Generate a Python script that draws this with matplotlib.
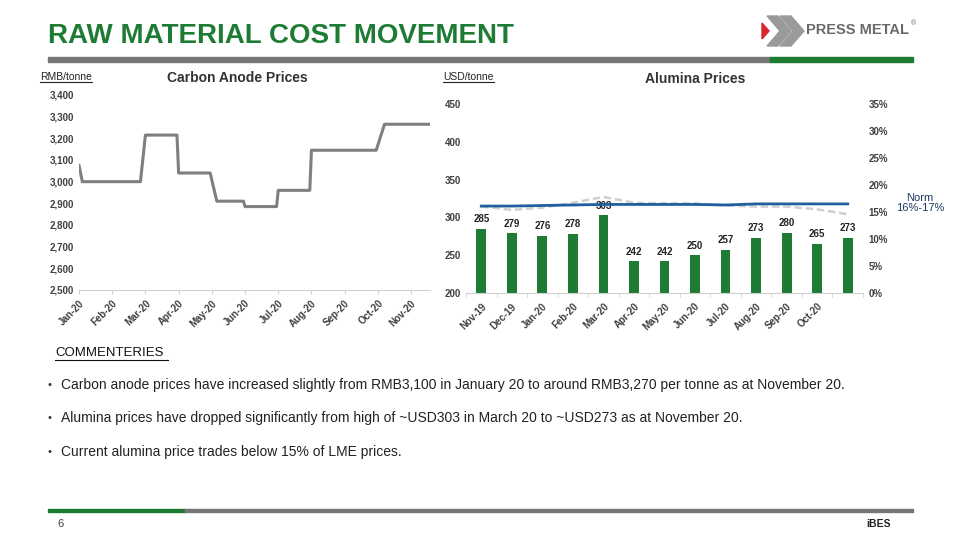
import matplotlib
matplotlib.use("Agg")
import matplotlib.pyplot as plt
from matplotlib.patches import Polygon, Rectangle
import numpy as np

plt.rcParams['font.family'] = ['Liberation Sans', 'DejaVu Sans']

# carbon anode prices (RMB/tonne); x = months since Jan-20
anode_x = [0, 0.1, 1.85, 2.0, 2.95, 3.0, 3.95, 4.15, 4.95, 5.0, 5.95, 6.0,
           6.95, 7.0, 8.95, 9.2, 10.6]
anode_y = [3075, 3000, 3000, 3215, 3215, 3040, 3040, 2910, 2910, 2885, 2885,
           2960, 2960, 3145, 3145, 3265, 3265]
anode_months = ['Jan-20', 'Feb-20', 'Mar-20', 'Apr-20', 'May-20', 'Jun-20',
                'Jul-20', 'Aug-20', 'Sep-20', 'Oct-20', 'Nov-20']
anode_yticks = [2500, 2600, 2700, 2800, 2900, 3000, 3100, 3200, 3300, 3400]

# alumina prices (USD/tonne) and % of LME
alu_months = ['Nov-19', 'Dec-19', 'Jan-20', 'Feb-20', 'Mar-20', 'Apr-20',
              'May-20', 'Jun-20', 'Jul-20', 'Aug-20', 'Sep-20', 'Oct-20', '']
alu_price = [285, 279, 276, 278, 303, 242, 242, 250, 257, 273, 280, 265, 273]
alu_pct_lme = [16.0, 15.4, 15.8, 16.7, 17.8, 16.7, 16.6, 16.6, 16.2, 16.0,
               16.0, 15.5, 14.6]
norm_line = [16.1, 16.1, 16.2, 16.3, 16.4, 16.4, 16.4, 16.4, 16.3, 16.5,
             16.5, 16.5, 16.5]
pct_ticks = [0, 5, 10, 15, 20, 25, 30, 35]

GREEN = '#1e7b34'
GRAY = '#767676'
W, H = 960, 540

fig = plt.figure(figsize=(9.6, 5.4), dpi=100)


def px_axes(x0, y0, x1, y1):
    return fig.add_axes([x0 / W, 1 - y1 / H, (x1 - x0) / W, (y1 - y0) / H])


def style_axis(ax):
    for s in ['top', 'right', 'left']:
        ax.spines[s].set_visible(False)
    ax.spines['bottom'].set_color('#d0d0d0')
    ax.tick_params(axis='y', length=0, labelsize=7, labelcolor='#404040')
    for t in ax.get_yticklabels():
        t.set_fontweight('bold')


# header
fig.text(48 / W, 1 - 36 / H, 'RAW MATERIAL COST MOVEMENT', color=GREEN,
         fontsize=20, fontweight='bold', va='center', ha='left')
fig.patches.append(Rectangle((48 / W, 1 - 62 / H), (770 - 48) / W, 5 / H,
                             transform=fig.transFigure, color=GRAY))
fig.patches.append(Rectangle((770 / W, 1 - 62 / H), (913 - 770) / W, 5 / H,
                             transform=fig.transFigure, color=GREEN))
# logo
for dx in (0, 13):
    pts = [(767 + dx, 16), (778 + dx, 16), (791 + dx, 31), (778 + dx, 46),
           (767 + dx, 46), (780 + dx, 31)]
    fig.patches.append(Polygon([(x / W, 1 - y / H) for x, y in pts],
                               transform=fig.transFigure, color='#9a9a9a'))
red = [(762, 23), (769, 31), (762, 39)]
fig.patches.append(Polygon([(x / W, 1 - y / H) for x, y in red],
                           transform=fig.transFigure, color='#d9252b'))
fig.text(806 / W, 1 - 30 / H, 'PRESS METAL', color='#6a6a6a', fontsize=10.5,
         fontweight='bold', va='center', ha='left')
fig.text(911 / W, 1 - 24 / H, '®', color='#6a6a6a', fontsize=5, va='center')

# footer
fig.patches.append(Rectangle((48 / W, 1 - 512 / H), (185 - 48) / W, 3 / H,
                             transform=fig.transFigure, color=GREEN))
fig.patches.append(Rectangle((185 / W, 1 - 512 / H), (913 - 185) / W, 3 / H,
                             transform=fig.transFigure, color=GRAY))
fig.text(57 / W, 1 - 524 / H, '6', fontsize=8, color='#404040', va='center')
fig.text(866 / W, 1 - 524 / H, 'iBES', fontsize=7.5, fontweight='bold',
         color='#222222', va='center')

# left chart: carbon anode
ax1 = px_axes(79, 95, 430, 290)
ax1.plot(anode_x, anode_y, color='#7f7f7f', lw=2.2, solid_joinstyle='round')
ax1.set_xlim(0, 10.57)
ax1.set_ylim(2500, 3400)
ax1.set_yticks(anode_yticks)
ax1.set_yticklabels([f'{v:,}' for v in anode_yticks])
ax1.set_xticks(range(len(anode_months)))
ax1.set_xticklabels(anode_months, rotation=45, ha='right',
                    rotation_mode='anchor', fontsize=7, fontweight='bold',
                    color='#404040')
ax1.tick_params(axis='x', length=3, color='#d0d0d0', pad=3)
style_axis(ax1)
fig.text(40 / W, 1 - 77 / H, 'RMB/tonne', fontsize=7.5, color='#222222',
         va='center', ha='left')
fig.text(237 / W, 1 - 78 / H, 'Carbon Anode Prices', fontsize=10,
         fontweight='bold', color='#333333', va='center', ha='center')

# right chart: alumina
ax2 = px_axes(466, 104, 863, 293)
xi = np.arange(len(alu_price))
ax2.bar(xi, alu_price, width=0.32, color=GREEN, zorder=2)
for x, v in zip(xi, alu_price):
    ax2.text(x, v + 6, str(v), ha='center', va='bottom', fontsize=7,
             fontweight='bold', color='#222222', zorder=5)
ax2.set_xlim(-0.5, len(alu_price) - 0.5)
ax2.set_ylim(200, 450)
ax2.set_yticks([200, 250, 300, 350, 400, 450])
ax2.set_xticks(xi)
ax2.set_xticklabels(alu_months, rotation=45, ha='right',
                    rotation_mode='anchor', fontsize=7, fontweight='bold',
                    color='#404040')
ax2.set_xticks(np.arange(-0.5, len(alu_price), 1), minor=True)
ax2.tick_params(axis='x', which='major', length=0, pad=6)
ax2.tick_params(axis='x', which='minor', length=3, color='#d0d0d0')
style_axis(ax2)

ax3 = ax2.twinx()
ax3.plot(xi, alu_pct_lme, color='#cfcfcf', lw=1.8, ls=(0, (3, 1.5)), zorder=3)
ax3.plot(xi, norm_line, color='#1f5fa0', lw=2, zorder=4)
ax3.set_ylim(0, 35)
ax3.set_yticks(pct_ticks)
ax3.set_yticklabels([f'{v}%' for v in pct_ticks])
for s in ax3.spines.values():
    s.set_visible(False)
ax3.tick_params(axis='y', length=0, labelsize=7, labelcolor='#404040', pad=4)
for t in ax3.get_yticklabels():
    t.set_fontweight('bold')

fig.text(443 / W, 1 - 77 / H, 'USD/tonne', fontsize=7.5, color='#222222',
         va='center', ha='left')
fig.text(695 / W, 1 - 79 / H, 'Alumina Prices', fontsize=10,
         fontweight='bold', color='#333333', va='center', ha='center')
fig.text(920 / W, 1 - 203 / H, 'Norm\n16%-17%', fontsize=8,
         color='#1f3864', va='center', ha='center', linespacing=1.1)

# underlines for unit labels
for x0, x1 in [(40, 92), (443, 494)]:
    fig.lines.append(plt.Line2D([x0 / W, x1 / W], [1 - 82 / H, 1 - 82 / H],
                                transform=fig.transFigure, color='#222222',
                                lw=0.8))

# commentary
fig.text(55 / W, 1 - 353 / H, 'COMMENTERIES', fontsize=9.5, color='#111111',
         va='center', ha='left')
fig.lines.append(plt.Line2D([55 / W, 168 / W], [1 - 360 / H, 1 - 360 / H],
                            transform=fig.transFigure, color='#111111',
                            lw=0.8))
comments = [
    'Carbon anode prices have increased slightly from RMB3,100 in January 20 '
    'to around RMB3,270 per tonne as at November 20.',
    'Alumina prices have dropped significantly from high of ~USD303 in '
    'March 20 to ~USD273 as at November 20.',
    'Current alumina price trades below 15% of LME prices.',
]
for y, txt in zip([385, 418, 452], comments):
    fig.text(47 / W, 1 - y / H, '•', fontsize=8, color='#333333', va='center')
    fig.text(61 / W, 1 - y / H, txt, fontsize=10, color='#222222',
             va='center', ha='left')

fig.savefig('out.png', dpi=100)
